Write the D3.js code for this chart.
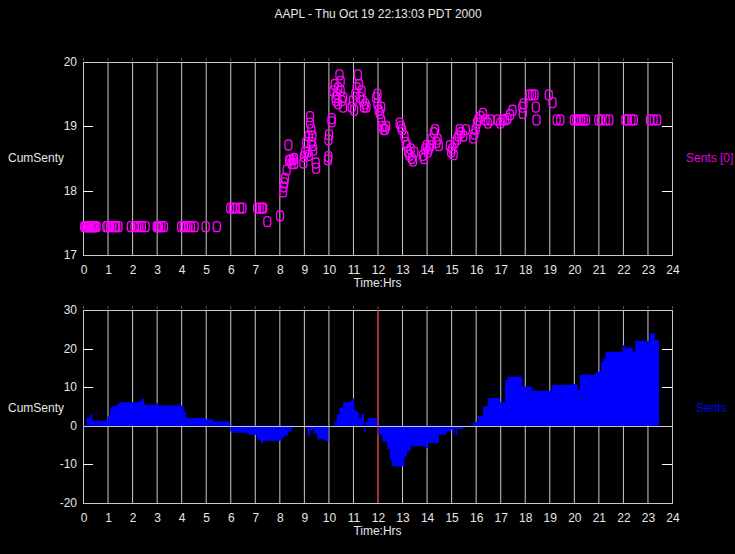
<!DOCTYPE html>
<html>
<head>
<meta charset="utf-8">
<script src="https://cdn.jsdelivr.net/npm/d3@7"></script>
<style>
  body { margin: 0; background: #000; }
  svg { display: block; }
  text { font-family: "Liberation Sans Narrow", "Liberation Sans", Arial, sans-serif; font-size: 12px; }
</style>
</head>
<body>
<div id="chart"></div>
<script>
const title = "AAPL - Thu Oct 19 22:13:03 PDT 2000";
const hourTicks = d3.range(0, 25);

// trades: hour of day and price
const tradeHours = [
  0.05,0.1,0.15,0.2,0.25,0.3,0.35,0.4,0.45,0.5,0.55, 0.95,1.0,1.1,1.2,1.3,1.35,1.45,
  1.95,2.1,2.2,2.3,2.4,2.55, 3.0,3.05,3.1,3.2,3.3, 4.0,4.1,4.2,4.3,4.4,4.55, 5.0, 5.45,
  6.0,6.1,6.2,6.4,6.5, 7.1,7.2,7.3,7.35, 7.51, 8.03,
  8.15,8.17,8.2,8.23,8.3,8.37,8.4,8.45,8.5,8.55,8.6,8.6,
  8.98,9.0,9.05,9.1,9.15,9.2,9.2,9.25,9.25,9.3,9.3,9.35,9.35,9.38,9.48,9.5,
  9.98,10.0,10.0,10.03,10.13,10.13,
  10.2,10.25,10.3,10.35,10.4,10.45,10.5,10.5,10.55,10.6,10.3,10.4,10.6,
  10.95,11.0,11.05,11.1,11.15,11.2,11.25,11.3,11.35,11.4,11.45,11.5,11.55,
  11.95,12.0,12.0,12.05,12.1,12.15,12.15,12.2,12.25,12.3,12.35,
  12.9,12.95,13.0,13.1,13.15,13.2,13.25,13.3,13.35,13.4,13.45,13.5,
  13.85,13.9,13.95,14.0,14.05,14.1,14.15,14.2,14.3,14.35,14.4,14.45,14.5,
  14.95,15.0,15.05,15.1,15.15,15.25,15.3,15.35,15.4,15.5,15.6,
  15.9,15.95,16.0,16.05,16.1,16.2,16.3,16.4,16.5,16.6,
  16.9,17.0,17.1,17.2,17.3,17.4,17.5, 17.9,17.92,17.95,
  18.2,18.3,18.4,18.45,18.48, 18.98,19.13,
  19.3,19.45, 20.0,20.1,20.2,20.3,20.4,20.5, 21.0,21.1,21.3,21.45,
  22.1,22.2,22.35,22.45, 23.1,23.25,23.4
];
const tradePrices = [
  17.44,17.44,17.44,17.44,17.44,17.44,17.44,17.44,17.44,17.44,17.44, 17.44,17.44,17.44,17.44,17.44,17.44,17.44,
  17.44,17.44,17.44,17.44,17.44,17.44, 17.44,17.44,17.44,17.44,17.44, 17.44,17.44,17.44,17.44,17.44,17.44, 17.44, 17.44,
  17.73,17.73,17.73,17.73,17.73, 17.73,17.73,17.73,17.73, 17.52, 17.61,
  17.98,18.06,18.12,18.19,18.32,18.71,18.47,18.48,18.42,18.48,18.42,18.5,
  18.43,18.53,18.6,18.75,18.6,18.85,18.55,19.15,19.05,18.95,18.75,18.7,18.85,18.63,18.43,18.35,
  18.48,18.53,18.79,18.87,19.07,19.12,
  19.55,19.65,19.45,19.5,19.35,19.8,19.7,19.55,19.4,19.3,19.4,19.6,19.45,
  19.3,19.4,19.25,19.5,19.6,19.8,19.65,19.45,19.55,19.4,19.3,19.35,19.3,
  19.45,19.5,19.35,19.25,19.2,19.3,19.1,19.0,18.95,18.95,19.0,
  19.05,19.0,18.95,18.85,18.75,18.7,18.6,18.55,18.65,18.5,18.46,18.6,
  18.55,18.5,18.65,18.7,18.6,18.65,18.7,18.8,18.9,18.95,18.75,18.8,18.7,
  18.7,18.6,18.65,18.56,18.75,18.8,18.85,18.95,18.9,18.85,18.95,
  18.82,18.88,18.95,19.05,19.1,19.15,19.2,19.1,19.05,19.1,
  19.1,19.05,19.1,19.1,19.12,19.18,19.25, 19.3,19.2,19.35,
  19.49,19.49,19.49,19.3,19.1, 19.49,19.37,
  19.1,19.1, 19.1,19.1,19.1,19.1,19.1,19.1, 19.1,19.1,19.1,19.1,
  19.1,19.1,19.1,19.1, 19.1,19.1,19.1
];

// cumulative sentiment, steps
const sentHours = [
  0.0,0.15,0.3,0.38,1.0,1.1,1.2,1.4,1.5,2.3,2.4,2.5,2.95,3.05,3.1,4.1,4.2,5.0,5.3,
  6.0,6.1,6.7,7.1,7.25,7.35,8.1,8.2,8.35,8.5,8.6,9.05,9.15,9.25,9.4,9.55,9.8,9.9,10.0,
  10.2,10.25,10.35,10.45,10.6,10.9,11.0,11.05,11.15,11.25,11.35,11.45,11.5,11.6,
  12.0,12.2,12.4,12.5,12.6,13.1,13.2,13.35,13.95,14.05,14.5,14.8,15.0,15.1,15.15,15.2,15.25,15.5,
  15.9,16.1,16.3,16.5,17.0,17.2,17.3,17.9,18.3,19.1,19.9,20.15,20.25,20.9,21.1,21.2,21.3,
  22.0,22.1,22.4,22.5,23.1,23.3,23.47
];
const sentValues = [
  -0.4,2.0,3.0,1.3,2.5,4.5,5.2,5.8,6.1,6.6,7.0,5.4,5.9,5.4,5.25,3.5,2.0,1.6,1.1,
  -1.5,-1.8,-2.3,-3.6,-4.5,-3.9,-3.0,-2.5,-1.5,-0.5,0,-0.5,-2.5,-1.0,-2.0,-3.5,-3.7,-4.0,0,
  -0.5,1.2,3.0,4.6,6.1,6.6,7.1,4.1,3.5,2.0,3.0,-1.6,1.0,2.0,
  -2.3,-4.1,-6.0,-9.0,-10.5,-8.0,-6.6,-5.3,-5.8,-4.5,-2.3,-1.5,-0.9,-2.6,-0.9,-2.3,-0.8,-0.4,
  1.0,2.5,5.0,7.2,6.1,11.9,12.7,10.2,9.1,10.6,10.8,9.3,13.2,14.0,16.5,17.5,19.2,
  20.9,20.3,19.2,22.0,24.0,22.2,22.2
];

const topTicks = [17, 18, 19, 20];
const bottomTicks = [-20, -10, 0, 10, 20, 30];
const nowHour = 12;

const W = 735, H = 554;
const left = 83, right = 672;
const gridColor = "#c8c8c8", textColor = "#e6e6e6";

const svg = d3.select("#chart").append("svg")
  .attr("width", W).attr("height", H)
  .style("background", "#000");

svg.append("text")
  .attr("x", 378).attr("y", 18)
  .attr("text-anchor", "middle")
  .attr("fill", textColor)
  .text(title);

const x = d3.scaleLinear().domain([0, 24]).range([left, right]);

function drawFrame(y, ticks, top, bottom) {
  const g = svg.append("g");
  // hour grid lines
  g.selectAll("line.grid").data(hourTicks).enter().append("line")
    .attr("x1", d => x(d) + 0.5).attr("x2", d => x(d) + 0.5)
    .attr("y1", top).attr("y2", bottom)
    .attr("stroke", gridColor);
  // tiny ticks above frame
  g.selectAll("line.up").data(hourTicks).enter().append("line")
    .attr("x1", d => x(d) + 0.5).attr("x2", d => x(d) + 0.5)
    .attr("y1", top - 4).attr("y2", top - 1)
    .attr("stroke", "#555");
  // frame
  g.append("rect")
    .attr("x", left + 0.5).attr("y", top + 0.5)
    .attr("width", right - left).attr("height", bottom - top)
    .attr("fill", "none").attr("stroke", gridColor);
  // short y ticks both sides
  const inner = ticks.filter(d => y(d) > top + 1 && y(d) < bottom - 1);
  g.selectAll("line.yl").data(inner).enter().append("line")
    .attr("x1", left).attr("x2", left + 10)
    .attr("y1", d => Math.round(y(d)) + 0.5).attr("y2", d => Math.round(y(d)) + 0.5)
    .attr("stroke", "#fff");
  g.selectAll("line.yr").data(inner).enter().append("line")
    .attr("x1", right - 10).attr("x2", right)
    .attr("y1", d => Math.round(y(d)) + 0.5).attr("y2", d => Math.round(y(d)) + 0.5)
    .attr("stroke", "#fff");
  // labels
  g.selectAll("text.yl").data(ticks).enter().append("text")
    .attr("x", left - 6).attr("y", d => y(d) + 4)
    .attr("text-anchor", "end").attr("fill", textColor)
    .text(d => d);
  g.selectAll("text.xl").data(hourTicks).enter().append("text")
    .attr("x", d => x(d) + 1).attr("y", bottom + 19)
    .attr("text-anchor", "middle").attr("fill", textColor)
    .text(d => d);
  g.append("text")
    .attr("x", x(12)).attr("y", bottom + 32)
    .attr("text-anchor", "middle").attr("fill", textColor)
    .text("Time:Hrs");
  return g;
}

// --- top: trades
const yTop = d3.scaleLinear().domain([17, 20]).range([255, 62]);
drawFrame(yTop, topTicks, 62, 255);

const trades = tradeHours.map((h, i) => ({h: h, p: tradePrices[i]}));
svg.append("g").selectAll("rect").data(trades).enter().append("rect")
  .attr("x", d => x(d.h) - 3.5)
  .attr("y", d => yTop(d.p) - 5)
  .attr("width", 7).attr("height", 10)
  .attr("rx", 3)
  .attr("fill", "none")
  .attr("stroke", "#ff00ff")
  .attr("stroke-width", 1.3);

svg.append("text").attr("x", 8).attr("y", 162).attr("fill", textColor).text("CumSenty");
svg.append("text").attr("x", 686).attr("y", 162).attr("fill", "#e000e0").text("Sents [0]");

// --- bottom: cumulative sentiment
const yBot = d3.scaleLinear().domain([-20, 30]).range([503, 310]);
drawFrame(yBot, bottomTicks, 310, 503);

const sents = sentHours.map((h, i) => ({h: h, v: sentValues[i]}));
svg.append("path")
  .datum(sents)
  .attr("fill", "#0000ff")
  .attr("d", d3.area()
    .x(d => x(d.h))
    .y0(yBot(0))
    .y1(d => yBot(d.v))
    .curve(d3.curveStepAfter));

// zero line over the area
svg.append("line")
  .attr("x1", left).attr("x2", right)
  .attr("y1", Math.round(yBot(0)) + 0.5).attr("y2", Math.round(yBot(0)) + 0.5)
  .attr("stroke", gridColor);

// current time marker
svg.append("line")
  .attr("x1", x(nowHour) + 0.5).attr("x2", x(nowHour) + 0.5)
  .attr("y1", 310).attr("y2", 503)
  .attr("stroke", "#e00000");

svg.append("text").attr("x", 8).attr("y", 412).attr("fill", textColor).text("CumSenty");
svg.append("text").attr("x", 696).attr("y", 412).attr("fill", "#0000ff").text("Sents");
</script>
</body>
</html>
